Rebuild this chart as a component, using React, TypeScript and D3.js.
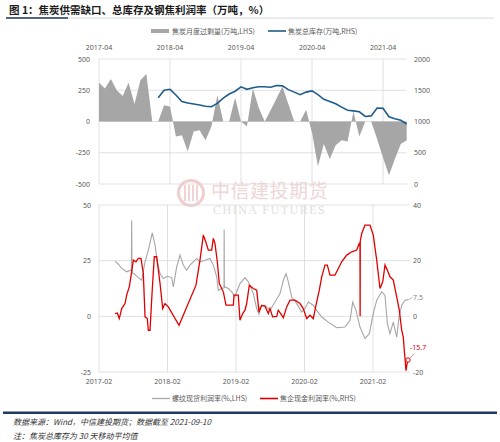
import * as d3 from 'd3';

const W = 500;
const H = 442;

// ---- top panel: monthly coke surplus (LHS) + total coke inventory (RHS) ----
const months = [
  '2017-04', '2017-05', '2017-06', '2017-07', '2017-08', '2017-09', '2017-10', '2017-11', '2017-12',
  '2018-01', '2018-02', '2018-03', '2018-04', '2018-05', '2018-06', '2018-07', '2018-08', '2018-09',
  '2018-10', '2018-11', '2018-12', '2019-01', '2019-02', '2019-03', '2019-04', '2019-05', '2019-06',
  '2019-07', '2019-08', '2019-09', '2019-10', '2019-11', '2019-12', '2020-01', '2020-02', '2020-03',
  '2020-04', '2020-05', '2020-06', '2020-07', '2020-08', '2020-09', '2020-10', '2020-11', '2020-12',
  '2021-01', '2021-02', '2021-03', '2021-04', '2021-05', '2021-06', '2021-07', '2021-08',
];

const surplus = [
  310, 265, 340, 250, 205, 310, 140, 330, 380,
  0, 0, 130, 120, -120, -110, -240, -80, -70,
  -150, -40, 210, 0, 0, 190, 0, -40, 265,
  110, 0, 90, 185, 280, 140, 0, 0, 95,
  -90, -357, -180, -300, -190, -150, -160, 80, -120,
  0, 0, -140, -290, -430, -300, -180, -150,
];

const inventory: (number | null)[] = [
  null, null, null, null, null, null, null, null, null,
  null, 1380, 1500, 1515, 1425, 1320, 1295, 1280, 1265,
  1245, 1237, 1290, 1375, 1440, 1485, 1555, 1515, 1540,
  1555, 1555, 1547, 1575, 1570, 1510, 1470, 1430, 1470,
  1490, 1430, 1355, 1320, 1285, 1230, 1180, 1170, 1155,
  1080, 1090, 1215, 1210, 1075, 1045, 1020, 960,
];

const topXTicks = ['2017-04', '2018-04', '2019-04', '2020-04', '2021-04'];
const surplusTicks = [500, 250, 0, -250, -500];
const inventoryTicks = [2000, 1500, 1000, 500, 0];

// ---- bottom panel: rebar spot margin (LHS) + coking plant cash margin (RHS) ----
// [decimal year, %]
const rebarProfit: [number, number][] = [
  [2017.317, 24.8], [2017.365, 23.4], [2017.414, 21.5], [2017.487, 20], [2017.546, 20.7],
  [2017.555, 20.5], [2017.56, 43], [2017.565, 19.5], [2017.594, 19.2], [2017.657, 17.4],
  [2017.706, 16.2], [2017.755, 24.5], [2017.803, 29.7], [2017.861, 37.5], [2017.901, 32],
  [2017.934, 24.5], [2017.974, 19.2], [2018.022, 17], [2018.08, 18], [2018.144, 17.4],
  [2018.168, 13.2], [2018.217, 22.2], [2018.265, 27.5], [2018.314, 23], [2018.363, 20.7],
  [2018.411, 23], [2018.46, 24.5], [2018.509, 26], [2018.557, 24.5], [2018.63, 25.2],
  [2018.703, 26], [2018.752, 23], [2018.801, 17.7], [2018.825, 11.7], [2018.874, 12.5],
  [2018.908, 12.8], [2018.91, 39], [2018.913, 13], [2018.922, 13.2], [2018.971, 12.5],
  [2019.02, 11], [2019.068, 9], [2019.141, 14.7], [2019.214, 17.4], [2019.263, 15.5],
  [2019.336, 10.2], [2019.385, 3.5], [2019.419, 1], [2019.433, 4.2], [2019.506, 5],
  [2019.579, 2.7], [2019.652, 6.4], [2019.725, 10.2], [2019.774, 16.2], [2019.813, 19.2],
  [2019.847, 15.5], [2019.896, 8.7], [2019.969, 5.7], [2020.042, 1.9], [2020.09, 3.5],
  [2020.138, 6.4], [2020.211, 5], [2020.261, 2.7], [2020.334, -0.3], [2020.43, -2.6],
  [2020.553, -5.1], [2020.674, -4.8], [2020.747, -1.8], [2020.787, 6.4], [2020.835, 2.7],
  [2020.893, -4.8], [2020.966, -10], [2021.029, -7.8], [2021.087, 1.2], [2021.137, 7.2],
  [2021.21, 11], [2021.258, 9.5], [2021.292, -3.3], [2021.331, -7.8], [2021.379, -2.6],
  [2021.429, -9.3], [2021.463, -0.3], [2021.502, 5], [2021.55, 7.2], [2021.598, 7.5],
];

const cokeProfit: [number, number][] = [
  [2017.317, 1], [2017.35, 1.2], [2017.379, -0.8], [2017.414, 2.8], [2017.463, 4.6],
  [2017.487, 7.6], [2017.525, 10.6], [2017.56, 16], [2017.584, 20.2], [2017.623, 19.6],
  [2017.657, 20.8], [2017.696, 20.8], [2017.73, 15.4], [2017.755, -0.2], [2017.788, -0.8],
  [2017.803, -5], [2017.828, -5], [2017.857, 8.2], [2017.89, 21.4], [2017.925, 21.4],
  [2017.974, 11.8], [2018.013, 2.8], [2018.046, 4.6], [2018.095, 3.4], [2018.251, -3.2],
  [2018.499, 11.2], [2018.557, 20.2], [2018.606, 29.2], [2018.641, 26.8], [2018.679, 23.8],
  [2018.728, 23.8], [2018.752, 28], [2018.776, 26.2], [2018.81, 19.6], [2018.839, 11.8],
  [2018.898, 8.8], [2018.937, 4], [2019.044, 4], [2019.054, 7.6], [2019.116, 7.6],
  [2019.141, -1.4], [2019.181, 1], [2019.214, 2.2], [2019.239, 4.6], [2019.277, 11.2],
  [2019.336, 10], [2019.385, 9.4], [2019.419, 1.5], [2019.458, 4], [2019.506, 3.6],
  [2019.554, 1], [2019.579, 2.8], [2019.618, -0.2], [2019.677, 0], [2019.7, 2.2],
  [2019.75, 0.4], [2019.774, -0.5], [2019.823, 3.4], [2019.871, 5.8], [2019.944, 5.8],
  [2020.017, 4.6], [2020.065, 2.8], [2020.115, -0.8], [2020.163, 0.4], [2020.211, -0.8],
  [2020.251, 4], [2020.299, 9.4], [2020.334, 14.2], [2020.382, 18.4], [2020.416, 18.4],
  [2020.455, 14.8], [2020.528, 14.8], [2020.577, 17.2], [2020.626, 19.6], [2020.699, 22],
  [2020.772, 23.2], [2020.845, 23.8], [2020.883, 26.2], [2020.893, 26], [2020.895, 0],
  [2020.897, 27], [2020.918, 29.8], [2020.966, 32.8], [2021.039, 32.8], [2021.087, 29.2],
  [2021.137, 20.2], [2021.185, 10], [2021.225, 12.4], [2021.258, 18.4], [2021.292, 16.6],
  [2021.331, 14.2], [2021.379, 13], [2021.429, 7], [2021.467, 2.2], [2021.502, -5],
  [2021.525, -7.5], [2021.54, -12.3], [2021.565, -19.5], [2021.575, -17.7], [2021.594, -15.7],
];

const bottomXTicks: [number, string][] = [
  [2017.083, '2017-02'], [2018.083, '2018-02'], [2019.083, '2019-02'],
  [2020.083, '2020-02'], [2021.083, '2021-02'],
];
const rebarTicks = [50, 25, 0, -25];
const cokeTicks = [40, 20, 0, -20];

const rebarLast = '7.5';
const cokeLast = '-15.7';

const GRID = '#d9d9d9';
const AXIS_TXT = '#595959';
const NUM_FONT = '"Noto Sans", "DejaVu Sans", sans-serif';
const CJK_FONT = '"Noto Sans CJK SC", sans-serif';

export default function App() {
  // top panel geometry
  const tx = d3.scaleLinear().domain([0, months.length - 1]).range([99, 406.7]);
  const tyL = d3.scaleLinear().domain([-500, 500]).range([184, 59]);
  const tyR = d3.scaleLinear().domain([0, 2000]).range([184, 59]);

  const surplusArea = d3.area<number>()
    .x((_, i) => tx(i))
    .y0(tyL(0))
    .y1(d => tyL(d));

  const invLine = d3.line<number | null>()
    .defined(d => d != null)
    .x((_, i) => tx(i))
    .y(d => tyR(d as number));

  // bottom panel geometry
  const bx = d3.scaleLinear().domain([2017.083, 2021.623]).range([99, 410]);
  const byL = d3.scaleLinear().domain([-25, 50]).range([372, 205]);
  const byR = d3.scaleLinear().domain([-20, 40]).range([372, 205]);

  const rebarLine = d3.line<[number, number]>().x(d => bx(d[0])).y(d => byL(d[1]));
  const cokeLine = d3.line<[number, number]>().x(d => bx(d[0])).y(d => byR(d[1]));

  const rEnd = rebarProfit[rebarProfit.length - 1];
  const cEnd = cokeProfit[cokeProfit.length - 1];

  return (
    <svg
      width={W}
      height={H}
      style={{ position: 'absolute', left: 0, top: 0, background: '#fff' }}
    >
      {/* title */}
      <text x={9} y={14} fontSize={10.5} fontWeight="bold" fill="#1b1b1b" fontFamily={CJK_FONT}>
        图 1：焦炭供需缺口、总库存及钢焦利润率（万吨，%）
      </text>
      <line x1={6} x2={494} y1={18} y2={18} stroke="#c8ced8" strokeWidth={0.8} />
      <line x1={6} x2={68} y1={18} y2={18} stroke="#1f3864" strokeWidth={1.6} />

      {/* top legend */}
      <rect x={151} y={29} width={18} height={4} fill="#a6a6a6" />
      <text x={172} y={33.5} fontSize={7} fill={AXIS_TXT} fontFamily={CJK_FONT}>焦炭月度过剩量(万吨,LHS)</text>
      <line x1={268} x2={286} y1={31} y2={31} stroke="#1f5c8a" strokeWidth={1.6} />
      <text x={288} y={33.5} fontSize={7} fill={AXIS_TXT} fontFamily={CJK_FONT}>焦炭总库存(万吨,RHS)</text>

      {/* top grid */}
      {surplusTicks.map(t => (
        <line key={`tg${t}`} x1={99} x2={406.7} y1={tyL(t)} y2={tyL(t)} stroke={GRID} strokeWidth={0.8} />
      ))}
      {topXTicks.map(m => {
        const x = tx(months.indexOf(m));
        return (
          <g key={m}>
            <line x1={x} x2={x} y1={59} y2={184} stroke={GRID} strokeWidth={0.8} />
            <text x={x} y={49.5} fontSize={7} textAnchor="middle" fill={AXIS_TXT} fontFamily={NUM_FONT}>{m}</text>
          </g>
        );
      })}
      {surplusTicks.map(t => (
        <text key={`tl${t}`} x={90} y={tyL(t) + 2.5} fontSize={7} textAnchor="end" fill={AXIS_TXT} fontFamily={NUM_FONT}>{t}</text>
      ))}
      {inventoryTicks.map(t => (
        <text key={`tr${t}`} x={414} y={tyR(t) + 2.5} fontSize={7} fill={AXIS_TXT} fontFamily={NUM_FONT}>{t}</text>
      ))}

      {/* watermark */}
      <g opacity={0.9}>
        <circle cx={191} cy={193} r={12.5} fill="none" stroke="#efc9c9" strokeWidth={3} />
        {[-6, -2, 2, 6].map(d => (
          <rect key={d} x={191 + d - 1} y={185} width={2} height={16} fill="#f1cfcf" />
        ))}
        <text x={211} y={198} fontSize={19} fill="#edd3d3" fontFamily={CJK_FONT} letterSpacing={0.5}>中信建投期货</text>
        <text x={213} y={214} fontSize={12} fill="#dcdcdc" fontFamily='"Liberation Serif", serif' letterSpacing={1.5}>CHINA FUTURES</text>
      </g>

      {/* top marks */}
      <path d={surplusArea(surplus) ?? ''} fill="#a6a6a6" />
      <path d={invLine(inventory) ?? ''} fill="none" stroke="#1f5c8a" strokeWidth={1.6} />

      {/* bottom grid */}
      {rebarTicks.map(t => (
        <line key={`bg${t}`} x1={99} x2={410} y1={byL(t)} y2={byL(t)} stroke={GRID} strokeWidth={0.8} />
      ))}
      {bottomXTicks.map(([t, label]) => {
        const x = bx(t);
        return (
          <g key={label}>
            <line x1={x} x2={x} y1={205} y2={372} stroke={GRID} strokeWidth={0.8} />
            <text x={x} y={383.5} fontSize={7} textAnchor="middle" fill={AXIS_TXT} fontFamily={NUM_FONT}>{label}</text>
          </g>
        );
      })}
      {rebarTicks.map(t => (
        <text key={`bl${t}`} x={91} y={byL(t) + 2.5} fontSize={7} textAnchor="end" fill={AXIS_TXT} fontFamily={NUM_FONT}>{t}</text>
      ))}
      {cokeTicks.map(t => (
        <text key={`br${t}`} x={413} y={byR(t) + 2.5} fontSize={7} fill={AXIS_TXT} fontFamily={NUM_FONT}>{t}</text>
      ))}

      {/* bottom marks */}
      <path d={rebarLine(rebarProfit) ?? ''} fill="none" stroke="#a6a6a6" strokeWidth={1.1} />
      <path d={cokeLine(cokeProfit) ?? ''} fill="none" stroke="#e00000" strokeWidth={1.3} />

      {/* end labels */}
      <line x1={bx(rEnd[0])} x2={bx(rEnd[0]) + 4} y1={byL(rEnd[1])} y2={byL(rEnd[1]) - 2} stroke="#a6a6a6" strokeWidth={0.8} />
      <text x={413} y={299.5} fontSize={7} fill="#7f7f7f" fontFamily={NUM_FONT}>{rebarLast}</text>
      <circle cx={bx(cEnd[0])} cy={byR(cEnd[1])} r={2.2} fill="#fff" stroke="#e00000" strokeWidth={1} />
      <line x1={bx(cEnd[0]) + 2} x2={bx(cEnd[0]) + 6} y1={byR(cEnd[1]) - 2} y2={byR(cEnd[1]) - 6} stroke="#e07070" strokeWidth={0.8} />
      <text x={410} y={349.5} fontSize={7} fill="#e00000" fontFamily={NUM_FONT}>{cokeLast}</text>

      {/* bottom legend */}
      <line x1={152} x2={170} y1={398.5} y2={398.5} stroke="#a6a6a6" strokeWidth={1.3} />
      <text x={172} y={401} fontSize={7} fill={AXIS_TXT} fontFamily={CJK_FONT}>螺纹现货利润率(%,LHS)</text>
      <line x1={260} x2={278} y1={398.5} y2={398.5} stroke="#e00000" strokeWidth={1.6} />
      <text x={280} y={401} fontSize={7} fill={AXIS_TXT} fontFamily={CJK_FONT}>焦企现金利润率(%,RHS)</text>

      {/* footer */}
      <line x1={3} x2={497} y1={412.7} y2={412.7} stroke="#1f3864" strokeWidth={2.4} />
      <text x={13} y={425} fontSize={8} fontStyle="italic" fill="#333" fontFamily={CJK_FONT}>
        数据来源：Wind，中信建投期货；数据截至 2021-09-10
      </text>
      <text x={13} y={439} fontSize={8} fontStyle="italic" fill="#333" fontFamily={CJK_FONT}>
        注：焦炭总库存为 30 天移动平均值
      </text>
    </svg>
  );
}
